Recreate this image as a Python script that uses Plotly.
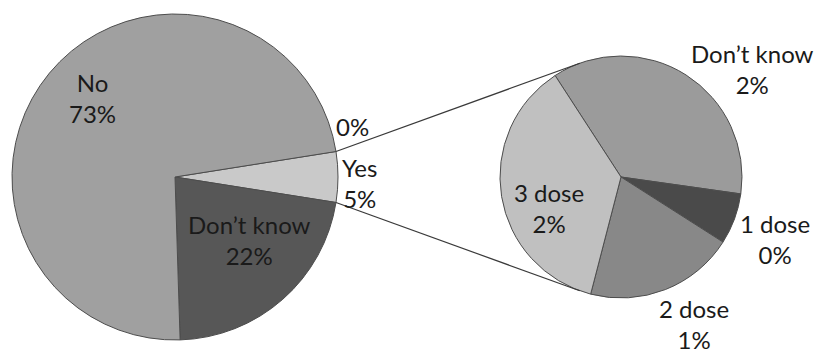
import math
import plotly.graph_objects as go

# Primary pie: overall answers (the "Yes" share is broken down in the second pie)
main_labels = ["", "Yes", "Don\u2019t know", "No"]
main_other = [0.0, None, 22.0, 73.0]

# Secondary pie: breakdown of "Yes"
dose_labels = ["Don\u2019t know", "1 dose", "2 dose", "3 dose"]
dose_values = [1.82, 0.34, 1.0, 1.84]

yes_total = sum(dose_values)
main_values = [v if v is not None else yes_total for v in main_other]

main_colors = ["#a0a0a0", "#c9c9c9", "#575757", "#a0a0a0"]
dose_colors = ["#9b9b9b", "#4a4a4a", "#888888", "#c0c0c0"]

# label placement: (radius factor, angular nudge in degrees from the slice middle)
main_label_pos = [(1.13, -7.0), (1.13, 2.0), (0.60, -8.2), (0.70, 4.4)]
dose_label_pos = [(1.41, 18.0), (1.37, 1.7), (1.36, -5.0), (0.65, -13.8)]

W, H = 816, 356
FONT = "Lato"
FSIZE = 24
TXT = "#1a1a1a"
EDGE = "#4d4d4d"

# pie placement in pixels (centre x, centre y, radius)
c1x, c1y, r1 = 175.0, 177.0, 163.0
c2x, c2y, r2 = 621.0, 177.0, 121.0
rot2 = -33.0


def dom(cx, cy, r):
    return dict(x=[(cx - r) / W, (cx + r) / W],
                y=[1 - (cy + r) / H, 1 - (cy - r) / H])


main_total = sum(main_values)
yes_idx = main_labels.index("Yes")
yes_start = sum(main_values[:yes_idx]) / main_total * 360.0
yes_span = main_values[yes_idx] / main_total * 360.0
# centre the "Yes" slice on the 3 o'clock direction
rot1 = 90.0 - yes_start - yes_span / 2.0

fig = go.Figure()

fig.add_trace(go.Pie(
    labels=main_labels,
    values=main_values,
    sort=False,
    direction="clockwise",
    rotation=rot1,
    domain=dom(c1x, c1y, r1),
    marker=dict(colors=main_colors, line=dict(color=EDGE, width=1)),
    textinfo="none",
    hoverinfo="skip",
    showlegend=False,
))

fig.add_trace(go.Pie(
    labels=dose_labels,
    values=dose_values,
    sort=False,
    direction="clockwise",
    rotation=rot2,
    domain=dom(c2x, c2y, r2),
    marker=dict(colors=dose_colors, line=dict(color=EDGE, width=1)),
    textinfo="none",
    hoverinfo="skip",
    showlegend=False,
))


def add_labels(labels, values, rot, cx, cy, r, pos):
    total = sum(values)
    start = rot
    for lab, val, (k, nudge) in zip(labels, values, pos):
        span = val / total * 360.0
        b = math.radians(start + span / 2.0 + nudge)
        start += span
        x = cx + k * r * math.sin(b)
        y = cy - k * r * math.cos(b)
        pct = f"{val:.0f}%"
        text = f"{lab}<br>{pct}" if lab else pct
        fig.add_annotation(x=x / W, y=1 - y / H, xref="paper", yref="paper",
                           text=text, showarrow=False, align="center",
                           xanchor="center", yanchor="middle",
                           font=dict(family=FONT, size=FSIZE, color=TXT))


add_labels(main_labels, main_values, rot1, c1x, c1y, r1, main_label_pos)
add_labels(dose_labels, dose_values, rot2, c2x, c2y, r2, dose_label_pos)


# connector lines: from the edges of the "Yes" slice, tangent to the second pie
def edge_point(bearing_deg):
    b = math.radians(bearing_deg)
    return c1x + r1 * math.sin(b), c1y - r1 * math.cos(b)


def tangent_point(px, py, upper):
    dx, dy = px - c2x, -(py - c2y)
    d = math.hypot(dx, dy)
    phi = math.atan2(dy, dx)
    off = math.acos(r2 / d)
    a = phi - off if upper else phi + off
    return c2x + r2 * math.cos(a), c2y - r2 * math.sin(a)


top_b = rot1 + yes_start
bot_b = rot1 + yes_start + yes_span
for bearing, upper in [(top_b, True), (bot_b, False)]:
    px, py = edge_point(bearing)
    tx, ty = tangent_point(px, py, upper)
    fig.add_shape(type="line", xref="paper", yref="paper",
                  x0=px / W, y0=1 - py / H, x1=tx / W, y1=1 - ty / H,
                  line=dict(color="#3a3a3a", width=1.2))

fig.update_layout(
    width=W, height=H,
    margin=dict(l=0, r=0, t=0, b=0),
    paper_bgcolor="white",
    plot_bgcolor="white",
    showlegend=False,
    font=dict(family=FONT, color=TXT),
)

fig.write_html("out.html")
